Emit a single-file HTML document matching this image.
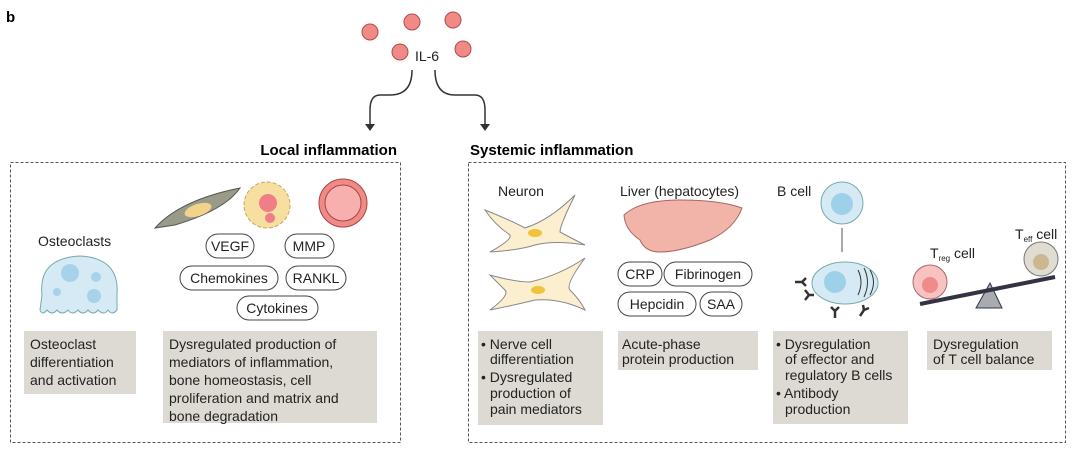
<!DOCTYPE html>
<html><head><style>
body{margin:0;background:#fff;}
svg{display:block;font-family:"Liberation Sans",sans-serif;}
</style></head><body>
<svg width="1080" height="454" viewBox="0 0 1080 454" xmlns="http://www.w3.org/2000/svg">
<text x="6" y="22" font-weight="bold" font-size="15">b</text>
<g fill="#f08a87" stroke="#b24b4a" stroke-width="1">
<circle cx="370" cy="32" r="8"/><circle cx="412" cy="22" r="8"/><circle cx="453" cy="20" r="8"/>
<circle cx="400" cy="52" r="8"/><circle cx="463" cy="49" r="8"/></g>
<text x="427" y="61" font-size="14" text-anchor="middle" fill="#222">IL-6</text>
<g fill="none" stroke="#333" stroke-width="1.5">
<path d="M412 70 Q412 95 390 95 L380 95 Q370 95 370 110 L370 128"/>
<path d="M435 70 Q435 95 455 95 L475 95 Q485 95 485 110 L485 128"/></g>
<path d="M365 124 L370 131 L375 124 Z M480 124 L485 131 L490 124 Z" fill="#333"/>
<text x="397" y="155" font-size="15" font-weight="bold" text-anchor="end">Local inflammation</text>
<text x="470" y="155" font-size="15" font-weight="bold">Systemic inflammation</text>
<g fill="none" stroke="#555" stroke-dasharray="3,2">
<rect x="10.5" y="162.5" width="390" height="280"/><rect x="468.5" y="162.5" width="597" height="280"/></g>
<g fill="#dcdad2">
<rect x="24" y="331" width="112" height="63"/><rect x="163" y="331" width="214" height="92"/>
<rect x="478" y="331" width="125" height="94"/><rect x="618" y="331" width="140" height="39"/>
<rect x="773" y="331" width="135" height="93"/><rect x="927" y="331" width="125" height="39"/></g>
<g font-size="14" fill="#222">
<text x="30" y="349">Osteoclast</text><text x="30" y="367">differentiation</text><text x="30" y="385">and activation</text>
<text x="169" y="349">Dysregulated production of</text><text x="169" y="367">mediators of inflammation,</text>
<text x="169" y="385">bone homeostasis, cell</text><text x="169" y="403">proliferation and matrix and</text><text x="169" y="421">bone degradation</text>
<text x="481" y="349">• Nerve cell</text><text x="490" y="364">differentiation</text><text x="481" y="382">• Dysregulated</text>
<text x="490" y="398">production of</text><text x="490" y="414">pain mediators</text>
<text x="622" y="349">Acute-phase</text><text x="622" y="364">protein production</text>
<text x="776" y="349">• Dysregulation</text><text x="785" y="364">of effector and</text><text x="785" y="380">regulatory B cells</text>
<text x="776" y="398">• Antibody</text><text x="785" y="414">production</text>
<text x="933" y="349">Dysregulation</text><text x="933" y="364">of T cell balance</text>
<text x="38" y="246">Osteoclasts</text><text x="498" y="196">Neuron</text><text x="620" y="196">Liver (hepatocytes)</text>
<text x="777" y="196">B cell</text>
<text x="930" y="258">T<tspan font-size="8" dy="3">reg</tspan><tspan dy="-3"> cell</tspan></text>
<text x="1015" y="239">T<tspan font-size="8" dy="3">eff</tspan><tspan dy="-3"> cell</tspan></text>
</g>
<path d="M42 295 Q38 258 80 256 Q120 258 117 295 L117 310 Q112 316 108 310 Q104 316 98 310 Q93 316 88 310 Q83 316 78 310 Q72 316 68 310 Q62 316 57 310 Q52 316 47 310 Q42 316 40 310 Z" fill="#d6eaf5" stroke="#7aa" stroke-width="1"/>
<circle cx="70" cy="273" r="9" fill="#a8d2ea"/><circle cx="96" cy="277" r="5" fill="#a8d2ea"/><circle cx="94" cy="296" r="7" fill="#a8d2ea"/><circle cx="57" cy="292" r="4" fill="#a8d2ea"/>
<path d="M155 228 Q180 200 240 188 Q225 210 175 225 Z" fill="#9a9a88" stroke="#555"/>
<ellipse cx="198" cy="210" rx="14" ry="6" fill="#f3d38a" transform="rotate(-18 198 210)"/>
<circle cx="267" cy="205" r="23" fill="#f6dfa0" stroke="#c9a85a" stroke-dasharray="4,2"/>
<circle cx="268" cy="203" r="9" fill="#ef7e86"/><circle cx="270" cy="218" r="5" fill="#ef7e86"/>
<circle cx="343" cy="203" r="24" fill="#f08a87" stroke="#a44" /><circle cx="343" cy="203" r="18" fill="#f7b0ae" stroke="#a44"/>
<g font-size="14" fill="#222" text-anchor="middle">
<rect x="206" y="234" width="48" height="24" rx="12" fill="#fff" stroke="#444"/><text x="230" y="251">VEGF</text>
<rect x="285" y="234" width="49" height="24" rx="12" fill="#fff" stroke="#444"/><text x="309" y="251">MMP</text>
<rect x="180" y="266" width="98" height="24" rx="12" fill="#fff" stroke="#444"/><text x="229" y="283">Chemokines</text>
<rect x="286" y="266" width="60" height="24" rx="12" fill="#fff" stroke="#444"/><text x="316" y="283">RANKL</text>
<rect x="237" y="296" width="81" height="24" rx="12" fill="#fff" stroke="#444"/><text x="277" y="313">Cytokines</text>
<rect x="618" y="262" width="44" height="24" rx="12" fill="#fff" stroke="#444"/><text x="640" y="279">CRP</text>
<rect x="664" y="262" width="88" height="24" rx="12" fill="#fff" stroke="#444"/><text x="708" y="279">Fibrinogen</text>
<rect x="618" y="292" width="78" height="24" rx="12" fill="#fff" stroke="#444"/><text x="657" y="309">Hepcidin</text>
<rect x="700" y="292" width="42" height="24" rx="12" fill="#fff" stroke="#444"/><text x="721" y="309">SAA</text>
</g>
<path d="M485 210 Q510 220 525 228 Q550 220 575 195 Q560 225 560 232 Q575 240 585 245 Q555 240 535 245 Q520 250 490 252 Q512 240 510 235 Q495 225 485 210Z" fill="#fbefd0" stroke="#888"/>
<ellipse cx="535" cy="233" rx="7" ry="4" fill="#f1c23b"/>
<path d="M490 275 Q515 282 530 282 Q560 275 585 258 Q565 285 570 290 Q580 300 585 310 Q560 298 535 300 Q515 305 490 310 Q510 295 505 290 Q495 280 490 275Z" fill="#fbefd0" stroke="#888"/>
<ellipse cx="538" cy="290" rx="7" ry="4" fill="#f1c23b"/>
<path d="M624 215 Q640 200 680 200 Q720 200 742 208 Q735 228 710 240 Q680 252 660 252 Q645 252 640 240 Q625 230 624 215Z" fill="#f2b3a8" stroke="#a66"/>
<circle cx="842" cy="203" r="21" fill="#d6eaf5" stroke="#7aa"/><circle cx="842" cy="204" r="11" fill="#9fd0ea"/>
<line x1="842" y1="228" x2="842" y2="252" stroke="#555"/>
<ellipse cx="845" cy="283" rx="33" ry="21" fill="#d6eaf5" stroke="#7aa"/><circle cx="835" cy="282" r="11" fill="#9fd0ea"/>
<path d="M858 270 Q864 282 858 295 M864 268 Q871 282 864 297 M870 270 Q877 282 870 295" fill="none" stroke="#333"/>
<g stroke="#333" stroke-width="2.5" fill="none"><path d="M795 282 l7 0 l4 -4 M802 282 l4 4"/><path d="M805 300 l4 -5 M809 295 l-4 -5 M809 295 l5 0"/><path d="M835 318 l0 -7 l-4 -4 M835 311 l4 -4"/><path d="M860 316 l4 -6 l-1 -5 M864 310 l5 -2"/></g>
<circle cx="930" cy="282" r="17" fill="#f7c2c0" stroke="#a66"/><circle cx="930" cy="285" r="8" fill="#f28a8a"/>
<circle cx="1041" cy="259" r="17" fill="#e0dcd2" stroke="#777"/><circle cx="1041" cy="262" r="8" fill="#cbb891"/>
<path d="M990 283 L976 308 L1002 308 Z" fill="#a8acae" stroke="#335"/>
<line x1="920" y1="304" x2="1055" y2="277" stroke="#334" stroke-width="4"/>
</svg>
</body></html>
